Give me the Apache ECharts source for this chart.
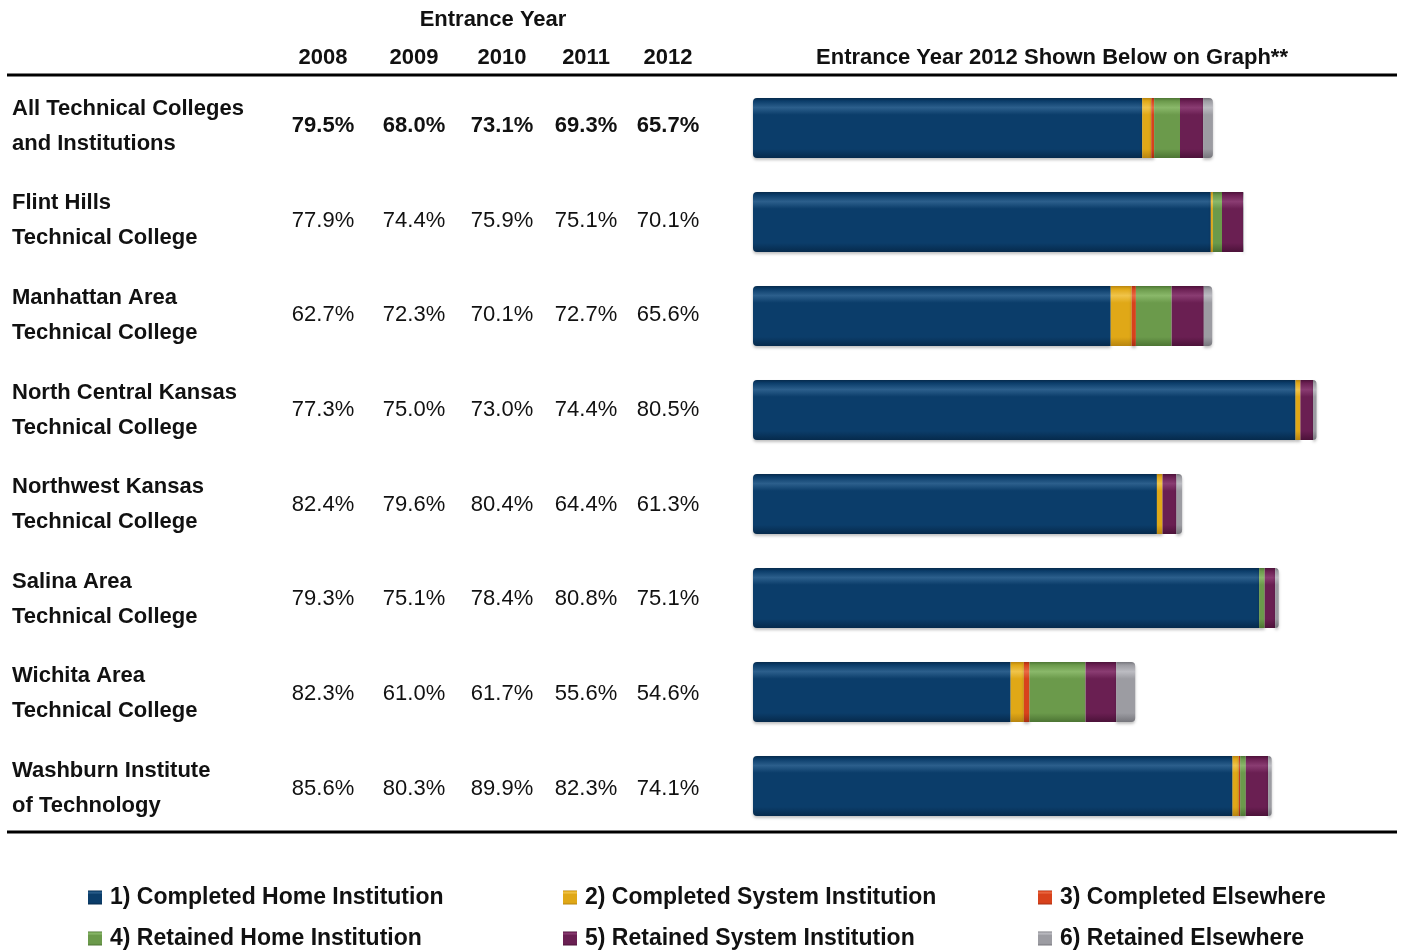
<!DOCTYPE html>
<html>
<head>
<meta charset="utf-8">
<script src="https://cdn.jsdelivr.net/npm/echarts@6/dist/echarts.min.js"></script>
<style>html,body{margin:0;padding:0;background:#fff;}#c{width:1401px;height:951px;}</style>
</head>
<body>
<div id="c"></div>
<script>
const colleges = ['All Technical Colleges\nand Institutions', 'Flint Hills\nTechnical College', 'Manhattan Area\nTechnical College', 'North Central Kansas\nTechnical College', 'Northwest Kansas\nTechnical College', 'Salina Area\nTechnical College', 'Wichita Area\nTechnical College', 'Washburn Institute\nof Technology'];
const years = ['2008', '2009', '2010', '2011', '2012'];
const rate2008 = [79.5, 77.9, 62.7, 77.3, 82.4, 79.3, 82.3, 85.6];
const rate2009 = [68.0, 74.4, 72.3, 75.0, 79.6, 75.1, 61.0, 80.3];
const rate2010 = [73.1, 75.9, 70.1, 73.0, 80.4, 78.4, 61.7, 89.9];
const rate2011 = [69.3, 75.1, 72.7, 74.4, 64.4, 80.8, 55.6, 82.3];
const rate2012 = [65.7, 70.1, 65.6, 80.5, 61.3, 75.1, 54.6, 74.1];

const seriesNames = ['1) Completed Home Institution', '2) Completed System Institution', '3) Completed Elsewhere', '4) Retained Home Institution', '5) Retained System Institution', '6) Retained Elsewhere'];
const completedHome = [55.6, 65.4, 51.1, 77.5, 57.7, 72.3, 36.8, 68.5];
const completedSystem = [1.3, 0.3, 3.0, 0.7, 0.8, 0, 1.9, 0.9];
const completedElsewhere = [0.4, 0, 0.6, 0, 0, 0, 0.8, 0.2];
const retainedHome = [3.7, 1.3, 5.1, 0, 0, 0.8, 8.0, 0.8];
const retainedSystem = [3.3, 3.0, 4.6, 1.8, 2.0, 1.5, 4.4, 3.2];
const retainedElsewhere = [1.4, 0.1, 1.2, 0.5, 0.8, 0.5, 2.7, 0.5];

const segs = [completedHome, completedSystem, completedElsewhere, retainedHome, retainedSystem, retainedElsewhere];
const colors = [
  ['#0b3d6a', '#2c5f8c', '#062a4c'],
  ['#e0a817', '#f0c44a', '#b88510'],
  ['#d8421c', '#ea6a44', '#a82e12'],
  ['#6b9a4b', '#8ab86a', '#4d7534'],
  ['#6a1f52', '#8a3c72', '#4c1239'],
  ['#9c9ca2', '#bcbcc2', '#76767c']
];
function grad(c) {
  return new echarts.graphic.LinearGradient(0, 0, 0, 1, [
    {offset: 0, color: c[2]},
    {offset: 0.05, color: c[0]},
    {offset: 0.16, color: c[1]},
    {offset: 0.28, color: c[0]},
    {offset: 0.85, color: c[0]},
    {offset: 1, color: c[2]}
  ]);
}

const FONT = '"Liberation Sans", Arial, sans-serif';
const chart = echarts.init(document.getElementById('c'), null, {renderer: 'canvas'});

const series = segs.map((d, i) => ({
  name: seriesNames[i],
  type: 'bar',
  stack: 'total',
  barWidth: 60,
  data: d,
  itemStyle: {
    color: grad(colors[i]),
    borderRadius: i === 0 ? [4, 0, 0, 4] : (i === 5 ? [0, 4, 4, 0] : 0),
    shadowColor: 'rgba(0,0,0,0.25)', shadowBlur: 3, shadowOffsetY: 2
  },
  emphasis: {disabled: true},
  animation: false
}));

function legendRow(names, top) {
  return {
    top: top, left: 88, orient: 'horizontal', itemGap: 0, padding: 0,
    itemWidth: 14, itemHeight: 14, icon: 'rect', selectedMode: false,
    data: names.map((n, k) => ({name: n, textStyle: k < 2 ? {width: 453} : {}})),
    textStyle: {fontFamily: FONT, fontWeight: 'bold', fontSize: 23, color: '#111', lineHeight: 22, padding: [0, 0, 0, 3]}
  };
}

chart.setOption({
  animation: false,
  grid: {left: 753, top: 81, width: 644, height: 752},
  xAxis: {type: 'value', min: 0, max: 92, show: false},
  yAxis: {type: 'category', data: colleges, inverse: true, show: false},
  legend: [legendRow(seriesNames.slice(0, 3), 886), legendRow(seriesNames.slice(3, 6), 927)],
  series: series
});

const cols = [rate2008, rate2009, rate2010, rate2011, rate2012];
const colX = [323, 414, 502, 586, 668];
const g = [];
g.push({type: 'text', style: {text: 'Entrance Year', x: 493, y: 20, align: 'center', verticalAlign: 'middle', font: 'bold 22px ' + FONT, fill: '#111'}});
years.forEach((y, i) => g.push({type: 'text', style: {text: y, x: colX[i], y: 58, align: 'center', verticalAlign: 'middle', font: 'bold 22px ' + FONT, fill: '#111'}}));
g.push({type: 'text', style: {text: 'Entrance Year 2012 Shown Below on Graph**', x: 1052, y: 58, align: 'center', verticalAlign: 'middle', font: 'bold 22px ' + FONT, fill: '#111'}});
g.push({type: 'line', shape: {x1: 7, y1: 75, x2: 1397, y2: 75}, style: {stroke: '#000', lineWidth: 3}});
g.push({type: 'line', shape: {x1: 7, y1: 832, x2: 1397, y2: 832}, style: {stroke: '#000', lineWidth: 3}});
colleges.forEach((name, r) => {
  const cy = chart.convertToPixel({yAxisIndex: 0}, r) - 2 + r * 0.65;
  g.push({type: 'text', style: {text: name, x: 12, y: cy, align: 'left', verticalAlign: 'middle', lineHeight: 35, font: 'bold 22px ' + FONT, fill: '#111'}});
  cols.forEach((arr, i) => {
    g.push({type: 'text', style: {text: arr[r].toFixed(1) + '%', x: colX[i], y: cy, align: 'center', verticalAlign: 'middle', font: (r === 0 ? 'bold ' : '') + '22px ' + FONT, fill: '#111'}});
  });
});
chart.setOption({graphic: g});
</script>
</body>
</html>
